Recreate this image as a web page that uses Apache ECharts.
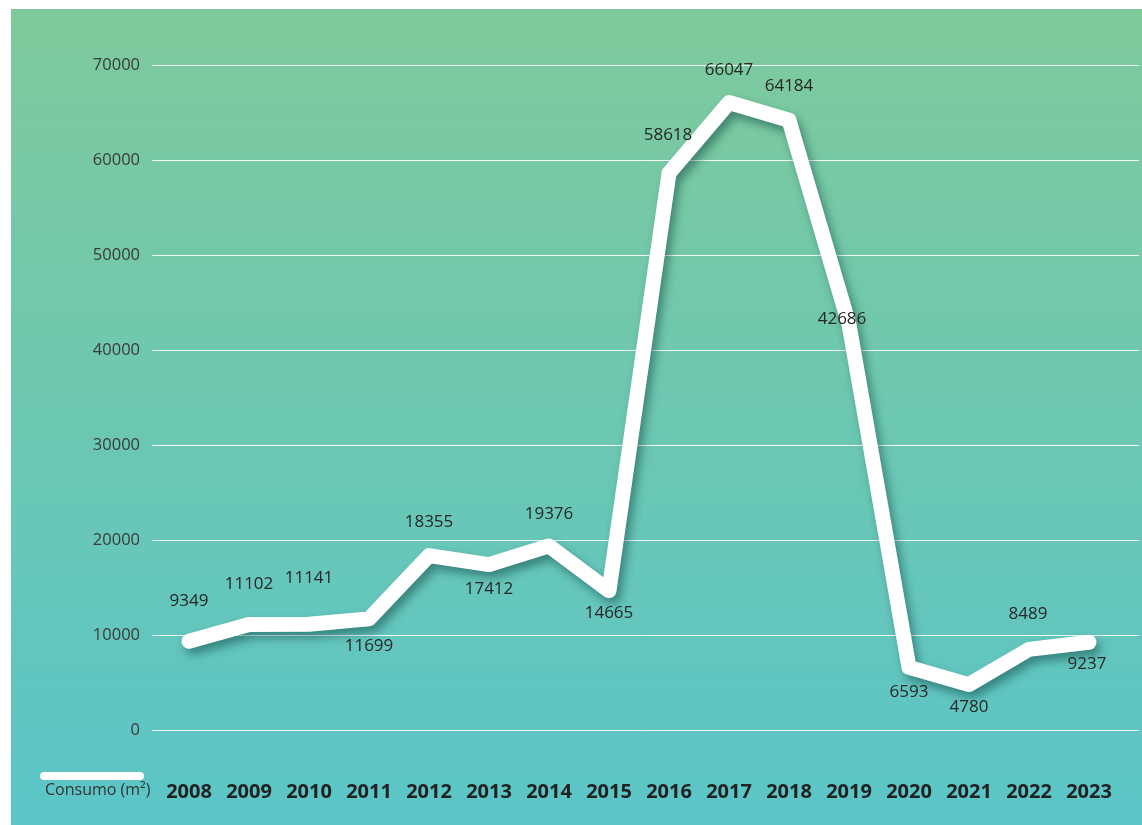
<!DOCTYPE html>
<html>
<head>
<meta charset="utf-8">
<script src="https://cdn.jsdelivr.net/npm/echarts@6/dist/echarts.min.js"></script>
<style>
html,body{margin:0;padding:0;background:#fff;}
#chart{width:1142px;height:825px;}
</style>
</head>
<body>
<div id="chart"></div>
<script>
// Data
const years = ['2008','2009','2010','2011','2012','2013','2014','2015','2016','2017','2018','2019','2020','2021','2022','2023'];
const consumo = [9349, 11102, 11141, 11699, 18355, 17412, 19376, 14665, 58618, 66047, 64184, 42686, 6593, 4780, 8489, 9237];
const seriesName = 'Consumo (m²)';
const yTicks = [0, 10000, 20000, 30000, 40000, 50000, 60000, 70000];

// Label placement (styling only)
const labelOffsets = [
  [0,-40],[0,-40],[0,-46],[0,27],[0,-33],[0,25],[0,-32],[0,22],
  [-1,-38],[0,-32],[0,-34],[-7,-5],[0,25],[0,23],[-1,-35],[-2,22]
];

const chart = echarts.init(document.getElementById('chart'), null, {renderer:'canvas'});
const yMin = yTicks[0], yMax = yTicks[yTicks.length-1], yStep = yTicks[1]-yTicks[0];
const FONT = '"Open Sans", "Noto Sans", sans-serif';

const option = {
  animation: false,
  graphic: [
    {
      type: 'rect', z: -10, silent: true,
      shape: {x: 11, y: 9, width: 1131, height: 816},
      style: {
        fill: new echarts.graphic.LinearGradient(0, 0, 0, 1, [
          {offset: 0, color: '#7ECA9B'},
          {offset: 1, color: '#5BC5C8'}
        ])
      }
    },
    {
      type: 'rect', z: 10, silent: true,
      shape: {x: 40, y: 772, width: 104, height: 8, r: 4},
      style: {fill: '#ffffff'}
    },
    {
      type: 'text', z: 10, silent: true,
      left: 45, top: 782,
      style: {text: seriesName, fill: '#333333', font: '16px ' + FONT}
    }
  ],
  grid: [
    {left: 152, right: 3, top: 65, bottom: 95},
    {left: 159, right: 23, top: 65, bottom: 95}
  ],
  xAxis: [
    {type: 'category', gridIndex: 0, data: years, show: false},
    {
      type: 'category', gridIndex: 1, data: years, boundaryGap: true,
      axisLine: {show: false}, axisTick: {show: false}, splitLine: {show: false},
      axisLabel: {
        margin: 52, color: '#222222', fontWeight: 'bold', fontSize: 20, fontFamily: FONT
      }
    }
  ],
  yAxis: [
    {
      type: 'value', gridIndex: 0, min: yMin, max: yMax, interval: yStep,
      axisLine: {show: false}, axisTick: {show: false},
      splitLine: {lineStyle: {color: 'rgba(255,255,255,0.9)', width: 1}},
      axisLabel: {margin: 12, color: '#3a3a3a', fontSize: 16.5, fontFamily: FONT,
        formatter: v => String(v)}
    },
    {
      type: 'value', gridIndex: 1, min: yMin, max: yMax, interval: yStep,
      show: false, splitLine: {show: false}
    }
  ],
  series: [
    {
      name: seriesName,
      type: 'line',
      xAxisIndex: 1, yAxisIndex: 1,
      data: consumo.map((v, i) => ({
        value: v,
        label: {offset: labelOffsets[i]}
      })),
      symbol: 'circle',
      symbolSize: 1,
      showSymbol: true,
      itemStyle: {color: '#ffffff'},
      lineStyle: {
        color: '#ffffff', width: 15, cap: 'round', join: 'round',
        shadowColor: 'rgba(0,50,50,0.45)', shadowBlur: 10, shadowOffsetX: 4, shadowOffsetY: 6
      },
      label: {
        show: true, position: 'inside',
        color: '#262626', fontSize: 17, fontFamily: FONT,
        formatter: p => String(p.value)
      },
      z: 5
    }
  ]
};
chart.setOption(option);
</script>
</body>
</html>
